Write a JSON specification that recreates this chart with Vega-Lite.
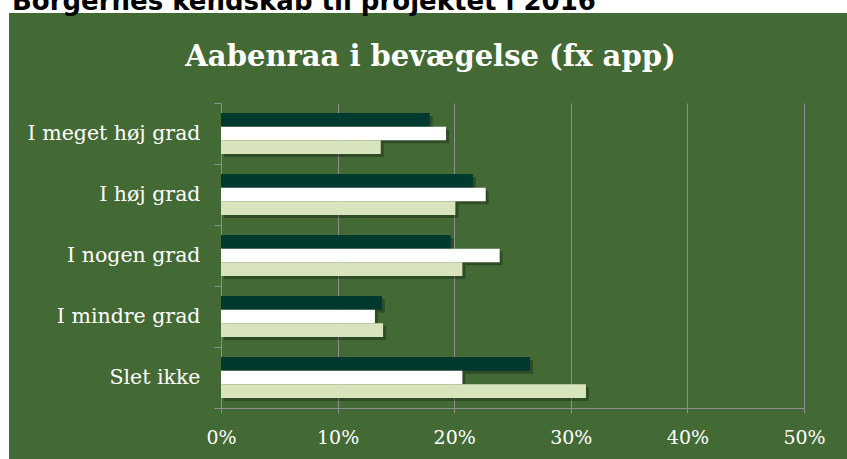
{
  "$schema": "https://vega.github.io/schema/vega-lite/v6.json",
  "width": 838,
  "height": 446,
  "autosize": {"type": "none"},
  "padding": {"left": 9, "top": 13, "right": 0, "bottom": 0},
  "background": "#ffffff",
  "title": {
    "text": "Borgernes kendskab til projektet i 2016",
    "anchor": "start",
    "frame": "group",
    "font": "DejaVu Sans",
    "fontWeight": "bold",
    "fontSize": 26,
    "color": "#000000",
    "baseline": "alphabetic",
    "offset": -33,
    "dx": 3
  },
  "config": {
    "view": {"fill": "#436A35", "stroke": null},
    "font": "DejaVu Serif"
  },
  "data": {
    "values": [
      {"kategori": "I meget høj grad", "serie": "Serie 1", "andel": 0.179},
      {"kategori": "I meget høj grad", "serie": "Serie 2", "andel": 0.193},
      {"kategori": "I meget høj grad", "serie": "Serie 3", "andel": 0.137},
      {"kategori": "I høj grad", "serie": "Serie 1", "andel": 0.216},
      {"kategori": "I høj grad", "serie": "Serie 2", "andel": 0.227},
      {"kategori": "I høj grad", "serie": "Serie 3", "andel": 0.201},
      {"kategori": "I nogen grad", "serie": "Serie 1", "andel": 0.197},
      {"kategori": "I nogen grad", "serie": "Serie 2", "andel": 0.239},
      {"kategori": "I nogen grad", "serie": "Serie 3", "andel": 0.207},
      {"kategori": "I mindre grad", "serie": "Serie 1", "andel": 0.138},
      {"kategori": "I mindre grad", "serie": "Serie 2", "andel": 0.132},
      {"kategori": "I mindre grad", "serie": "Serie 3", "andel": 0.139},
      {"kategori": "Slet ikke", "serie": "Serie 1", "andel": 0.265},
      {"kategori": "Slet ikke", "serie": "Serie 2", "andel": 0.207},
      {"kategori": "Slet ikke", "serie": "Serie 3", "andel": 0.313}
    ]
  },
  "encoding": {
    "y": {
      "field": "kategori",
      "type": "nominal",
      "sort": ["I meget høj grad", "I høj grad", "I nogen grad", "I mindre grad", "Slet ikke"],
      "scale": {"range": [90, 395], "paddingInner": 0, "paddingOuter": 0},
      "axis": {
        "orient": "left",
        "offset": -212,
        "title": null,
        "tickBand": "extent",
        "tickSize": 7,
        "tickColor": "#8E8E8E",
        "domainColor": "#8E8E8E",
        "labelColor": "#FFFFFF",
        "labelFont": "DejaVu Serif",
        "labelFontSize": 20.5,
        "labelPadding": 14,
        "grid": false
      }
    },
    "color": {
      "field": "serie",
      "type": "nominal",
      "sort": ["Serie 1", "Serie 2", "Serie 3"],
      "scale": {"range": ["#003A2E", "#FFFFFF", "#D8E4BC"]},
      "legend": null
    }
  },
  "layer": [
    {
      "mark": {"type": "bar", "color": "#000000", "opacity": 0.28, "xOffset": 3, "x2Offset": 3},
      "encoding": {
        "color": {"value": "#000000"},
        "yOffset": {
          "field": "serie",
          "type": "nominal",
          "sort": ["Serie 1", "Serie 2", "Serie 3"],
          "scale": {"paddingInner": 0, "paddingOuter": 0.73, "range": [3, 64]}
        },
        "x": {
          "field": "andel",
          "type": "quantitative",
          "scale": {"domain": [0, 0.5], "range": [212, 795], "nice": false},
          "axis": {
            "orient": "top",
            "values": [0.1, 0.2, 0.3, 0.4, 0.5],
            "grid": true,
            "gridColor": "#8E8E8E",
            "gridWidth": 1,
            "domain": false,
            "ticks": false,
            "labels": false,
            "title": "Aabenraa i bevægelse (fx app)",
            "titleColor": "#FFFFFF",
            "titleFont": "DejaVu Serif",
            "titleFontWeight": "bold",
            "titleFontSize": 29,
            "titleX": 421,
            "titleY": 52,
            "titleAlign": "center",
            "titleBaseline": "alphabetic"
          }
        }
      }
    },
    {
      "mark": {"type": "bar"},
      "encoding": {
        "yOffset": {
          "field": "serie",
          "type": "nominal",
          "sort": ["Serie 1", "Serie 2", "Serie 3"],
          "scale": {"paddingInner": 0, "paddingOuter": 0.73}
        },
        "x": {
          "field": "andel",
          "type": "quantitative",
          "axis": {
            "orient": "bottom",
            "offset": -51,
            "values": [0, 0.1, 0.2, 0.3, 0.4, 0.5],
            "format": ".0%",
            "grid": false,
            "title": null,
            "tickSize": 5,
            "tickColor": "#8E8E8E",
            "domainColor": "#8E8E8E",
            "labelColor": "#FFFFFF",
            "labelFont": "DejaVu Serif",
            "labelFontSize": 19,
            "labelPadding": 15,
            "labelFlush": false
          }
        }
      }
    }
  ],
  "resolve": {"axis": {"x": "independent"}, "scale": {"yOffset": "independent"}}
}
